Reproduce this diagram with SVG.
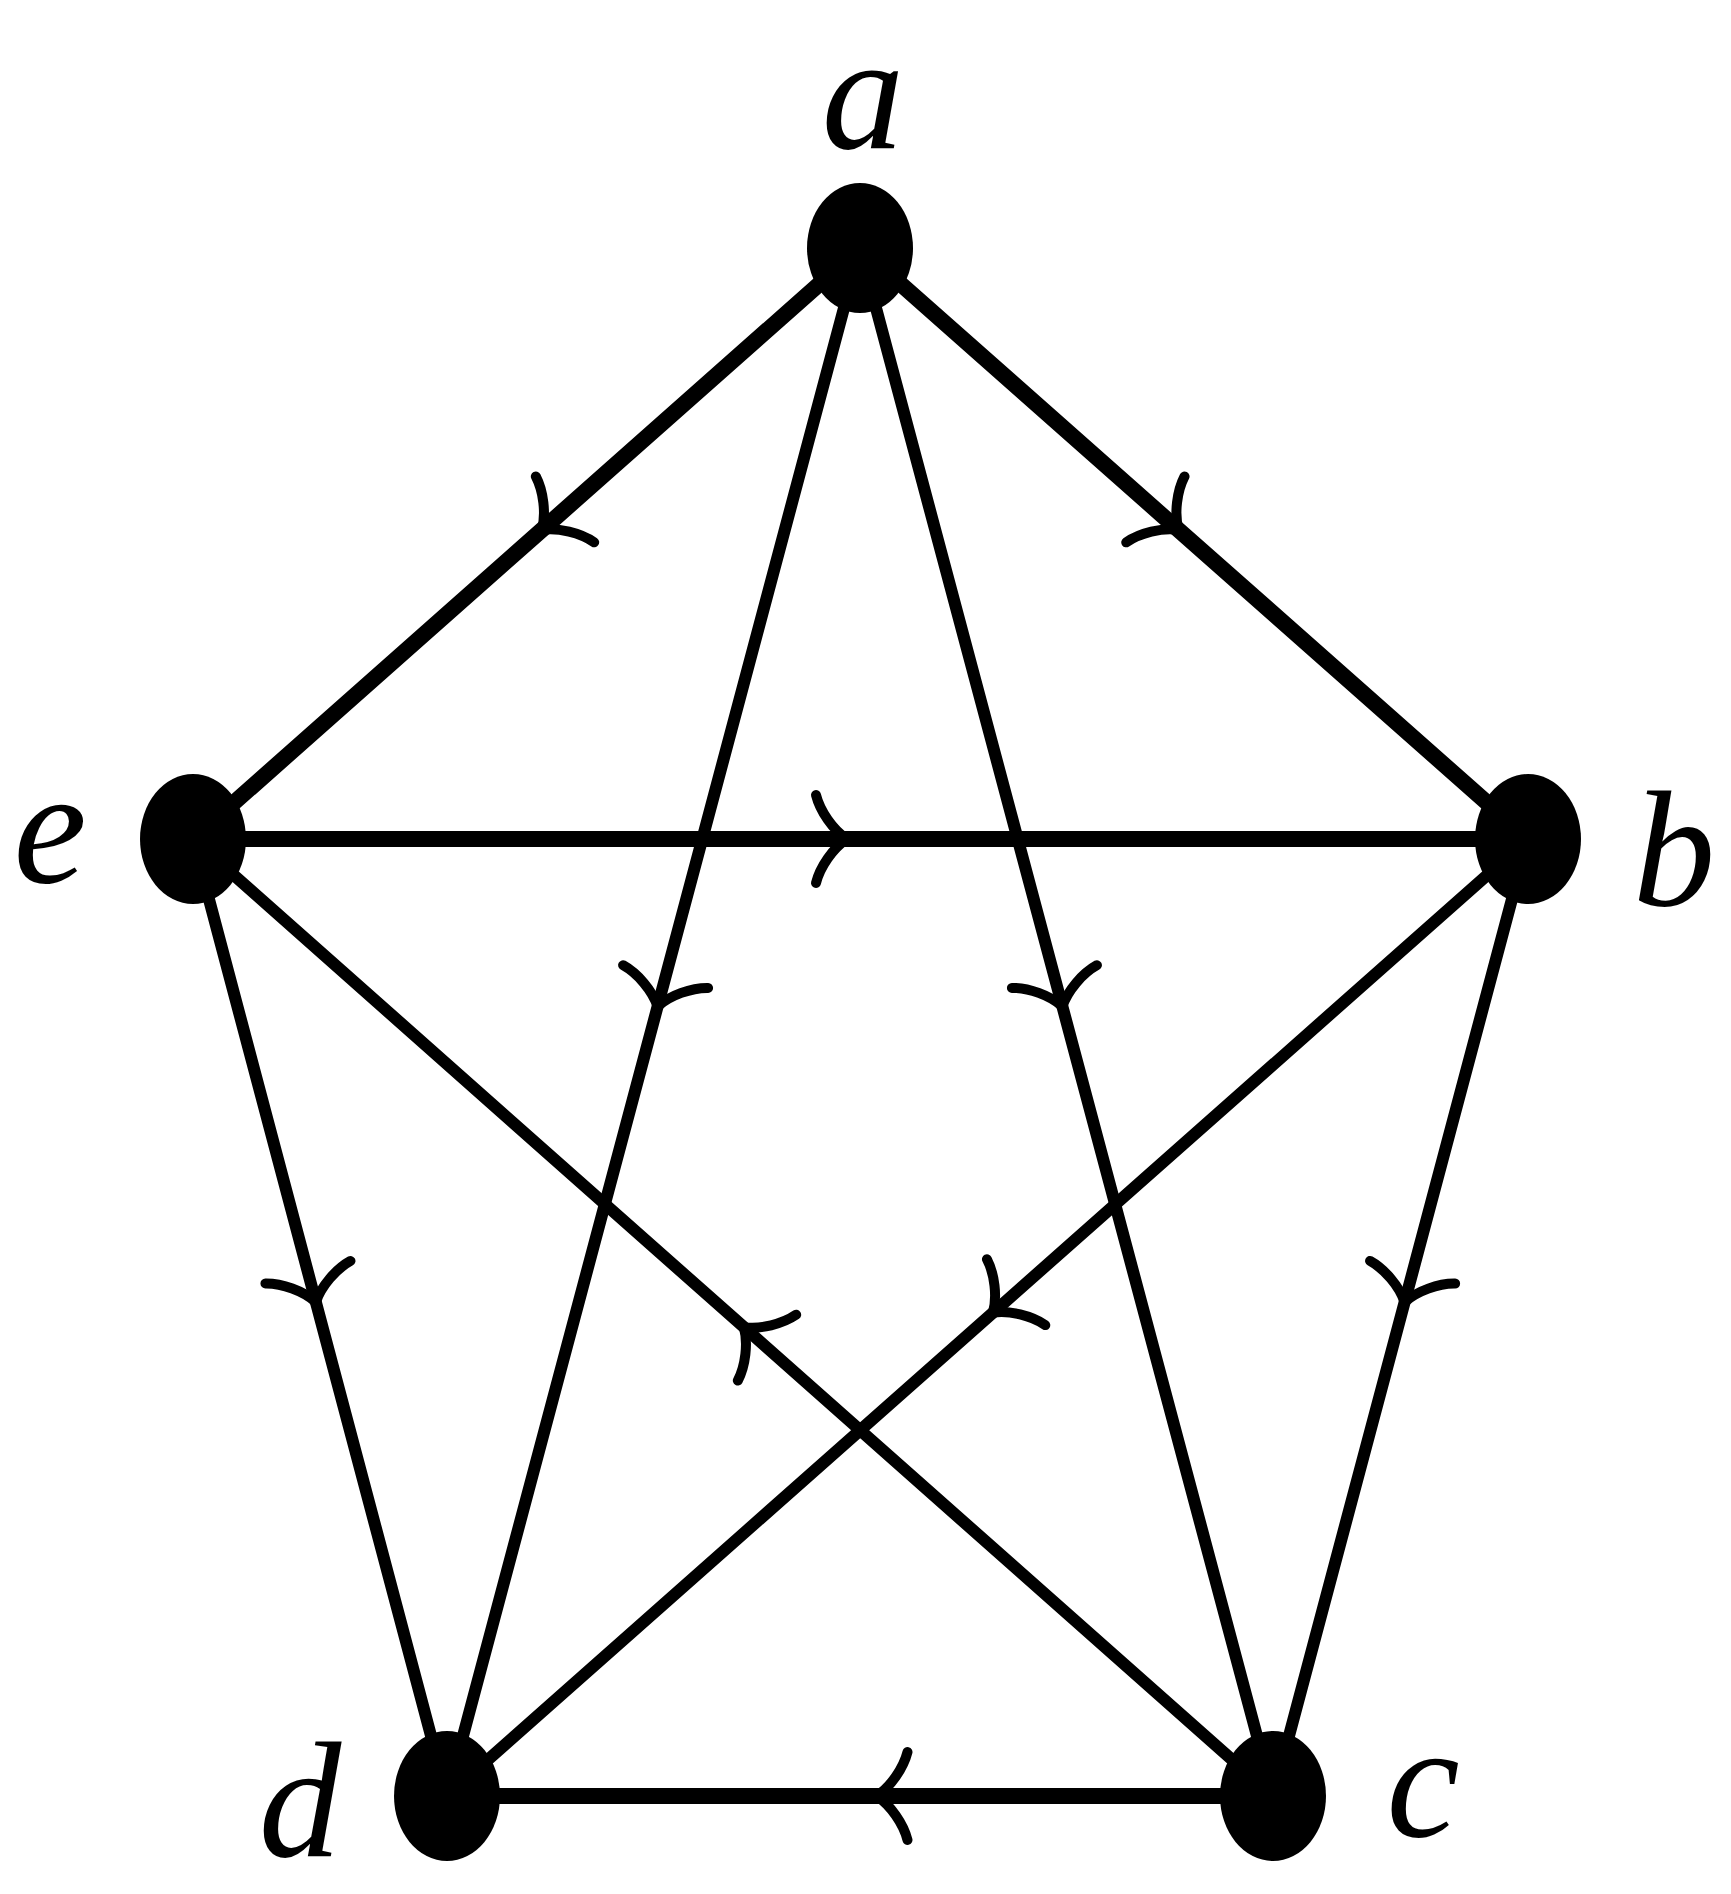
<svg xmlns="http://www.w3.org/2000/svg" width="1731" height="1894" viewBox="0 0 1731 1894">
  <style>
    .edge { fill: none; stroke: #000; stroke-width: 12; marker-mid: url(#arr); }
    .thick { stroke-width: 16; }
    .node { fill: #000; }
    .lbl { font-family: "Liberation Serif", "Times New Roman", serif; font-style: italic; font-size: 165px; fill: #000; text-anchor: middle; }
  </style>
  <defs>
    <marker id="arr" markerUnits="userSpaceOnUse" orient="auto" viewBox="-50 -55 70 110" markerWidth="70" markerHeight="110" refX="0" refY="0" overflow="visible">
      <path d="M -31,-44 C -27,-28 -14,-9 0,0 C -14,9 -27,28 -31,44" fill="none" stroke="#000" stroke-width="10" stroke-linecap="round" stroke-linejoin="round"/>
    </marker>
  </defs>
  <rect width="1731" height="1894" fill="#fff"/>
  <g id="connectors">
    <path class="edge thick" d="M 860,248 L 541.8,529.9 L 193,839"/>
    <path class="edge thick" d="M 860,248 L 1178.6,529.9 L 1528,839"/>
    <path class="edge thick" d="M 193,839 L 847,839 L 1528,839"/>
    <path class="edge" d="M 860,248 L 657.6,1006.5 L 447,1796"/>
    <path class="edge" d="M 860,248 L 1062.4,1006.5 L 1273,1796"/>
    <path class="edge" d="M 193,839 L 315.9,1302.2 L 447,1796"/>
    <path class="edge" d="M 1528,839 L 1404.6,1302.2 L 1273,1796"/>
    <path class="edge" d="M 1528,839 L 992.9,1312.7 L 447,1796"/>
    <path class="edge" d="M 1273,1796 L 743.8,1327.1 L 193,839"/>
    <path class="edge thick" d="M 1273,1796 L 876.5,1796 L 447,1796"/>
  </g>
  <g id="node-a">
    <ellipse class="node" cx="860" cy="248" rx="53" ry="65"/>
    <text class="lbl" x="863" y="148">a</text>
  </g>
  <g id="node-b">
    <ellipse class="node" cx="1528" cy="839" rx="53" ry="65"/>
    <text class="lbl" x="1674" y="905">b</text>
  </g>
  <g id="node-c">
    <ellipse class="node" cx="1273" cy="1796" rx="53" ry="65"/>
    <text class="lbl" x="1423" y="1836">c</text>
  </g>
  <g id="node-d">
    <ellipse class="node" cx="447" cy="1796" rx="53" ry="65"/>
    <text class="lbl" x="300" y="1856">d</text>
  </g>
  <g id="node-e">
    <ellipse class="node" cx="193" cy="839" rx="53" ry="65"/>
    <text class="lbl" x="50" y="882">e</text>
  </g>
</svg>
